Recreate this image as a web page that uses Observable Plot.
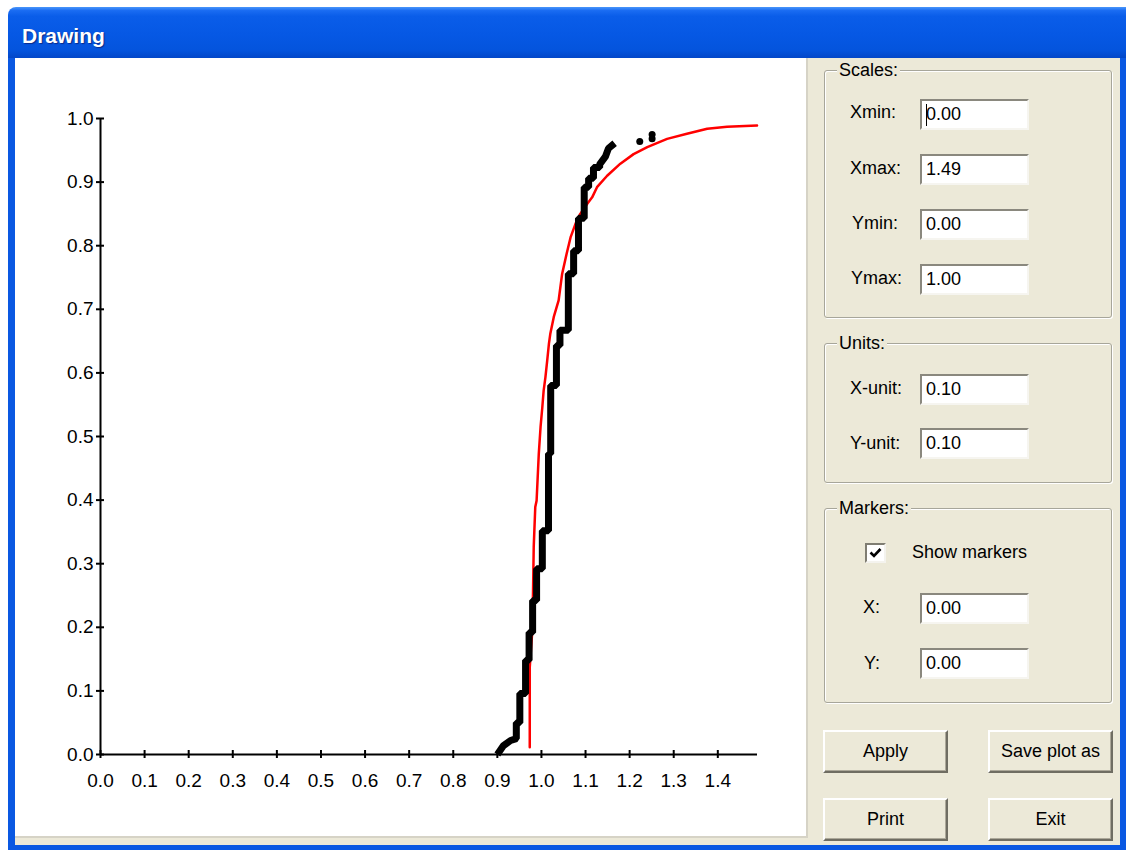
<!DOCTYPE html>
<html>
<head>
<meta charset="utf-8">
<script src="https://cdn.jsdelivr.net/npm/d3@7"></script>
<script src="https://cdn.jsdelivr.net/npm/@observablehq/plot@0.6"></script>
<style>
  html, body { margin: 0; padding: 0; background: #fff; }
  body { width: 1126px; height: 850px; position: relative; overflow: hidden;
         font-family: "Liberation Sans", Arial, sans-serif; color: #000; }
  .abs { position: absolute; }
  #titlebar { left: 8px; top: 7px; width: 1118px; height: 51px; border-top-left-radius: 8px;
    background: linear-gradient(to bottom, #4A96FA 0%, #1A6CF2 7%, #0A5DE9 18%, #0658E4 55%, #0454DD 85%, #0347C8 100%); }
  #title { left: 22px; top: 25px; font-size: 21px; line-height: 21px; font-weight: bold; color: #fff;
    text-shadow: 1px 1px 1px #0A2A8A; }
  .frame { background: #0A58E2; }
  #client { left: 15px; top: 58px; width: 1105px; height: 787px; background: #ECE9D8; }
  #plot { left: 15px; top: 58px; width: 791px; height: 778px; background: #fff;
    border-right: 2px solid #D6D3C6; border-bottom: 2px solid #D6D3C6; }
  .group { border: 1px solid #A7A69A; border-radius: 3px; box-shadow: inset 1px 1px #fff, 1px 1px #fff; }
  .legend { background: #ECE9D8; padding: 0 2px; font-size: 18px; line-height: 18px; }
  .lbl { font-size: 18px; line-height: 18px; }
  .box { width: 101px; height: 27px; background: #fff; border: 2px solid;
    border-color: #8A887E #F6F5F0 #F6F5F0 #8A887E; font-size: 18px; line-height: 27px;
    padding-left: 4px; box-sizing: content-box; }
  .btn { height: 39px; width: 121px; border: 2px solid; border-color: #FFFFFF #6F6D62 #6F6D62 #FFFFFF;
    box-shadow: inset -1px -1px #ACA899; background: #ECE9D8; font-size: 18px; line-height: 39px;
    text-align: center; }
  #check { left: 865px; top: 543px; width: 17px; height: 16px; background: #fff; border: 2px solid;
    border-color: #7F7D72 #F4F3EE #F4F3EE #7F7D72; }
  #caret { left: 926px; top: 104px; width: 1px; height: 22px; background: #000; }
</style>
</head>
<body>
<div id="titlebar" class="abs"></div>
<div id="title" class="abs">Drawing</div>
<div id="client" class="abs"></div>
<div class="abs frame" style="left:8px;top:58px;width:7px;height:792px;"></div>
<div class="abs frame" style="left:1120px;top:58px;width:6px;height:792px;"></div>
<div class="abs frame" style="left:8px;top:845px;width:1118px;height:5px;"></div>
<div id="plot" class="abs"></div>

<!-- Scales group -->
<div class="abs group" style="left:824px;top:70px;width:286px;height:246px;"></div>
<div class="abs legend" style="left:837px;top:61px;">Scales:</div>
<div class="abs lbl" style="left:850px;top:103px;">Xmin:</div>
<div class="abs box" style="left:920px;top:99px;">0.00</div>
<div id="caret" class="abs"></div>
<div class="abs lbl" style="left:850px;top:159px;">Xmax:</div>
<div class="abs box" style="left:920px;top:154px;">1.49</div>
<div class="abs lbl" style="left:852px;top:214px;">Ymin:</div>
<div class="abs box" style="left:920px;top:209px;">0.00</div>
<div class="abs lbl" style="left:851px;top:269px;">Ymax:</div>
<div class="abs box" style="left:920px;top:264px;">1.00</div>

<!-- Units group -->
<div class="abs group" style="left:824px;top:343px;width:286px;height:138px;"></div>
<div class="abs legend" style="left:837px;top:334px;">Units:</div>
<div class="abs lbl" style="left:850px;top:379px;">X-unit:</div>
<div class="abs box" style="left:920px;top:374px;">0.10</div>
<div class="abs lbl" style="left:850px;top:434px;">Y-unit:</div>
<div class="abs box" style="left:920px;top:428px;">0.10</div>

<!-- Markers group -->
<div class="abs group" style="left:824px;top:508px;width:286px;height:193px;"></div>
<div class="abs legend" style="left:837px;top:499px;">Markers:</div>
<div id="check" class="abs">
  <svg width="17" height="16" viewBox="0 0 17 16"><path d="M3.5 7.5 L7 11 L13.5 4" fill="none" stroke="#000" stroke-width="2.6"/></svg>
</div>
<div class="abs lbl" style="left:912px;top:543px;">Show markers</div>
<div class="abs lbl" style="left:863px;top:598px;">X:</div>
<div class="abs box" style="left:920px;top:593px;">0.00</div>
<div class="abs lbl" style="left:864px;top:654px;">Y:</div>
<div class="abs box" style="left:920px;top:648px;">0.00</div>

<!-- Buttons -->
<div class="abs btn" style="left:823px;top:730px;">Apply</div>
<div class="abs btn" style="left:988px;top:730px;">Save plot as</div>
<div class="abs btn" style="left:823px;top:798px;">Print</div>
<div class="abs btn" style="left:988px;top:798px;">Exit</div>

<script>
// Empirical distribution (thick black staircase polyline)
const ecdfX = [0.900, 0.914, 0.930, 0.943, 0.943, 0.951, 0.951, 0.964, 0.964, 0.972, 0.972,
  0.980, 0.980, 0.989, 0.989, 1.002, 1.002, 1.016, 1.016, 1.021, 1.021, 1.034, 1.034,
  1.042, 1.042, 1.061, 1.061, 1.073, 1.073, 1.084, 1.084, 1.097, 1.097, 1.107, 1.107,
  1.118, 1.118, 1.132, 1.132, 1.145, 1.152, 1.166];
const ecdfY = [0.000, 0.014, 0.022, 0.025, 0.050, 0.050, 0.096, 0.096, 0.148, 0.148, 0.192,
  0.192, 0.242, 0.242, 0.292, 0.292, 0.352, 0.352, 0.473, 0.473, 0.580, 0.580, 0.643,
  0.643, 0.667, 0.667, 0.756, 0.756, 0.792, 0.792, 0.843, 0.843, 0.892, 0.892, 0.906,
  0.906, 0.923, 0.923, 0.928, 0.940, 0.953, 0.961];

// Isolated upper observations
const tailX = [1.223, 1.251, 1.251];
const tailY = [0.964, 0.968, 0.975];

// Fitted distribution function (thin red curve)
const fitX = [0.9735, 0.9735, 0.979, 0.981, 0.9825, 0.986, 0.989, 0.994, 0.998, 1.002, 1.005,
  1.009, 1.013, 1.017, 1.020, 1.028, 1.039, 1.047, 1.057, 1.066, 1.077, 1.088, 1.104,
  1.115, 1.126, 1.149, 1.179, 1.209, 1.240, 1.285, 1.330, 1.376, 1.421, 1.489];
const fitY = [0.0115, 0.137, 0.192, 0.258, 0.326, 0.389, 0.399, 0.473, 0.515, 0.546, 0.572,
  0.593, 0.619, 0.646, 0.661, 0.688, 0.714, 0.756, 0.787, 0.813, 0.834, 0.850, 0.866,
  0.876, 0.892, 0.910, 0.929, 0.944, 0.955, 0.968, 0.976, 0.984, 0.987, 0.989];

// Axis ticks
const xTicks = [0, 0.1, 0.2, 0.3, 0.4, 0.5, 0.6, 0.7, 0.8, 0.9, 1.0, 1.1, 1.2, 1.3, 1.4];
const yTicks = [0, 0.1, 0.2, 0.3, 0.4, 0.5, 0.6, 0.7, 0.8, 0.9, 1.0];
const xDomain = [0, 1.49];
const yDomain = [0, 1];

const ecdf = ecdfX.map((x, i) => ({x, y: ecdfY[i]}));
const tail = tailX.map((x, i) => ({x, y: tailY[i]}));
const fit = fitX.map((x, i) => ({x, y: fitY[i]}));
const fmt = d3.format(".1f");

const chart = Plot.plot({
  width: 791,
  height: 778,
  marginLeft: 85,
  marginRight: 49,
  marginTop: 60,
  marginBottom: 82,
  x: {domain: xDomain},
  y: {domain: yDomain},
  style: {fontFamily: "'Liberation Sans', Arial, sans-serif", fontSize: "19px", color: "#000", background: "#fff", overflow: "visible"},
  marks: [
    Plot.axisX({ticks: xTicks, tickSize: 0, tickPadding: 19, tickFormat: fmt, label: null}),
    Plot.axisY({ticks: yTicks, tickSize: 0, tickPadding: 7, tickFormat: fmt, label: null}),
    Plot.ruleY([0], {x1: xDomain[0], x2: xDomain[1], stroke: "#000", strokeWidth: 2}),
    Plot.ruleX([0], {y1: yDomain[0], y2: yDomain[1], stroke: "#000", strokeWidth: 2}),
    Plot.ruleX(xTicks, {x: d => d, y1: 0, y2: 0, insetTop: -4, insetBottom: -4, stroke: "#000", strokeWidth: 2}),
    Plot.ruleY(yTicks, {y: d => d, x1: 0, x2: 0, insetLeft: -4, insetRight: -4, stroke: "#000", strokeWidth: 2}),
    Plot.line(fit, {x: "x", y: "y", stroke: "#FF0000", strokeWidth: 2.5}),
    Plot.line(ecdf, {x: "x", y: "y", stroke: "#000", strokeWidth: 7, strokeLinejoin: "miter", strokeLinecap: "butt"}),
    Plot.dot(tail, {x: "x", y: "y", r: 3.5, fill: "#000"})
  ]
});
document.getElementById("plot").appendChild(chart);
</script>
</body>
</html>
